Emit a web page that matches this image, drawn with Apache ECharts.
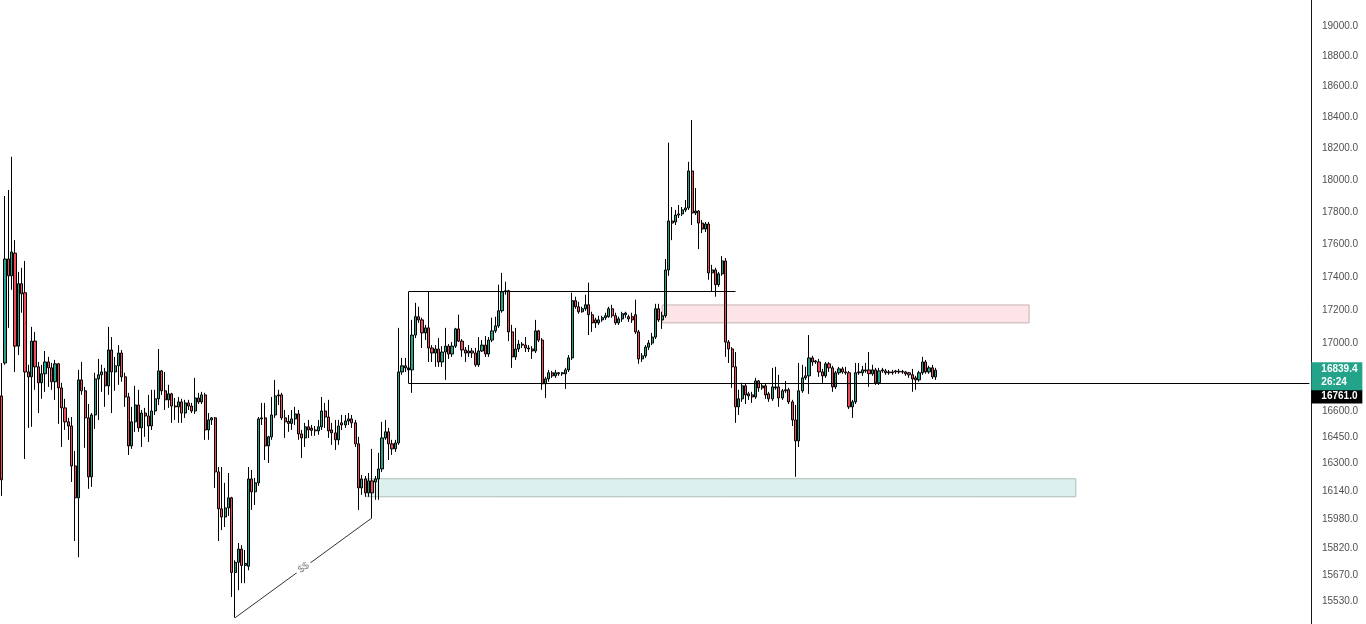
<!DOCTYPE html>
<html><head><meta charset="utf-8">
<script src="https://cdn.jsdelivr.net/npm/echarts@6/dist/echarts.min.js"></script>
<style>html,body{margin:0;padding:0;background:#fff;overflow:hidden}#c{width:1366px;height:624px}</style>
</head><body><div id="c"></div>
<script>
// [open, close, low, high]
const ohlc = [
[16688,16204,16113,16882],[16882,17509,16871,17900],[17509,17406,17091,17938],[17406,17552,17321,18148],[17545,16982,16829,17625],
[16982,17358,16929,17430],[17358,17297,17182,17455],[17303,16829,16323,17497],[16829,16800,16502,16871],[16800,17012,16508,17097],
[17012,16859,16724,17067],[16859,16765,16588,16888],[16765,16818,16671,16871],[16818,16888,16712,16953],[16888,16853,16741,16918],
[16853,16771,16724,16882],[16771,16877,16665,16900],[16877,16735,16525,16882],[16735,16618,16392,16765],[16618,16537,16490,16671],
[16537,16513,16433,16560],[16513,16283,16192,16565],[16283,16102,15860,16369],[16102,16782,15770,16841],[16782,16718,16694,16888],
[16718,16560,16387,16741],[16560,16221,16153,16641],[16221,16577,16164,16588],[16577,16788,16496,16824],[16788,16812,16548,16906],
[16812,16829,16712,16871],[16829,16747,16624,16853],[16747,16959,16694,17097],[16959,16829,16588,17036],[16829,16865,16718,16918],
[16865,16941,16753,16988],[16941,16800,16771,16959],[16800,16682,16624,16824],[16682,16398,16346,16706],[16398,16537,16381,16624],
[16537,16635,16479,16747],[16635,16502,16479,16724],[16502,16588,16392,16606],[16588,16571,16450,16618],[16571,16513,16421,16694],
[16513,16600,16490,16724],[16600,16671,16577,16724],[16671,16835,16635,16965],[16835,16718,16694,16841],[16718,16665,16606,16829],
[16665,16700,16618,16753],[16700,16629,16531,16706],[16629,16624,16548,16676],[16624,16653,16531,16682],[16653,16588,16531,16671],
[16588,16647,16560,16665],[16647,16629,16606,16665],[16629,16600,16588,16647],[16600,16676,16583,16794],[16676,16653,16641,16706],
[16653,16694,16641,16712],[16694,16490,16433,16706],[16490,16548,16433,16588],[16548,16560,16519,16565],[16560,16249,16158,16565],
[16249,16040,15860,16277],[16040,15994,15921,16277],[15994,16045,15938,16187],[16045,16102,16000,16243],[16102,15686,15552,16108],
[15686,15742,15439,15753],[15742,15815,15589,15849],[15815,15725,15627,15837],[15725,15736,15627,15810],[15720,16209,15698,16277],
[16209,16136,16034,16260],[16136,16187,16062,16215],[16187,16554,16170,16565],[16554,16560,16519,16647],[16560,16398,16317,16647],
[16398,16450,16300,16456],[16450,16577,16433,16682],[16577,16688,16560,16782],[16688,16694,16635,16724],[16694,16560,16548,16706],
[16560,16537,16444,16606],[16540,16528,16479,16577],[16528,16554,16490,16606],[16554,16583,16519,16624],[16583,16467,16433,16606],
[16467,16444,16329,16490],[16444,16508,16392,16531],[16508,16490,16444,16548],[16500,16488,16456,16519],[16490,16485,16456,16513],
[16485,16508,16462,16548],[16508,16600,16490,16682],[16600,16565,16502,16647],[16565,16485,16444,16665],[16490,16473,16404,16531],
[16473,16433,16375,16548],[16433,16513,16404,16548],[16531,16519,16490,16577],[16519,16542,16502,16577],[16542,16554,16519,16588],
[16554,16531,16502,16577],[16531,16410,16392,16548],[16410,16158,16034,16450],[16158,16209,16119,16232],[16209,16130,16108,16226],
[16130,16198,16108,16243],[16198,16130,15989,16381],[16192,16209,16091,16226],[16209,16266,16091,16358],[16266,16444,16249,16537],
[16444,16479,16433,16548],[16479,16410,16317,16502],[16410,16381,16346,16433],[16381,16415,16364,16433],[16415,16829,16404,17091],
[16829,16865,16812,16912],[16865,16853,16829,16912],[16853,16841,16824,16888],[16841,17048,16706,17139],[17048,17158,17030,17242],
[17158,17139,17121,17218],[17139,17061,16971,17152],[17061,17091,17018,17109],[17091,16971,16888,17309],[16971,16941,16888,16988],
[16941,16965,16859,16988],[16965,16888,16859,17030],[16888,16947,16859,16982],[16947,16982,16782,17091],[16982,16935,16906,16994],
[16935,16982,16918,17006],[16982,17085,16971,17091],[17085,17012,17006,17170],[17012,16959,16918,17024],[16959,16941,16888,16976],
[16941,16953,16918,16988],[16953,16941,16912,16971],[16941,16871,16859,16971],[16871,16953,16859,17036],[16953,16988,16947,17018],
[16988,16935,16918,17042],[16935,17018,16918,17036],[17018,17073,17006,17152],[17073,17103,17061,17158],[17103,17194,17091,17352],
[17194,17309,17182,17424],[17309,17315,17291,17370],[17315,17067,17012,17321],[17067,16918,16853,17109],[16918,16965,16900,17091],
[16965,16994,16947,17018],[16994,16988,16971,17006],[16988,16971,16947,17036],[16971,16965,16947,16988],[16965,16953,16906,16982],
[16953,17073,16941,17139],[17073,17018,17006,17079],[17018,16759,16724,17030],[16759,16788,16676,16800],[16788,16824,16771,16841],
[16824,16806,16794,16835],[16806,16824,16794,16841],[16818,16824,16806,16829],[16824,16818,16806,16829],[16818,16841,16729,16853],
[16841,16912,16829,16929],[16912,17255,16900,17303],[17255,17218,17206,17279],[17218,17188,17176,17248],[17188,17206,17182,17218],
[17206,17230,17194,17291],[17230,17170,17048,17364],[17170,17121,17067,17188],[17139,17121,17091,17152],[17121,17139,17109,17164],
[17139,17152,17127,17164],[17152,17164,17139,17182],[17158,17206,17152,17218],[17206,17164,17152,17230],[17164,17121,17109,17182],
[17121,17145,17109,17158],[17145,17176,17127,17188],[17170,17180,17152,17188],[17158,17145,17127,17170],[17158,17139,17121,17182],
[17170,17067,17055,17261],[17067,16906,16877,17079],[16906,16924,16888,16941],[16924,16976,16912,16988],[16976,17000,16959,17018],
[17000,17036,16988,17061],[17036,17206,17024,17236],[17206,17139,17127,17236],[17139,17164,17085,17188],[17164,17442,17152,17509],
[17442,17744,17406,18238],[17744,17731,17625,17831],[17738,17781,17719,17813],[17781,17788,17763,17844],[17788,17813,17775,17831],
[17813,17825,17800,17875],[17825,18058,17813,18116],[18058,17794,17719,18384],[17794,17806,17781,17950],[17806,17731,17570,17813],
[17731,17694,17669,17750],[17694,17725,17675,17738],[17725,17424,17382,17738],[17424,17442,17309,17473],[17442,17352,17279,17455],
[17352,17418,17339,17430],[17418,17497,17406,17527],[17497,17006,16918,17515],[17006,16965,16882,17018],[16965,16859,16735,16976],
[16859,16624,16531,16947],[16624,16671,16577,16724],[16671,16747,16653,16765],[16747,16694,16641,16759],[16700,16688,16665,16712],
[16694,16682,16647,16712],[16682,16776,16671,16794],[16776,16735,16712,16782],[16735,16747,16724,16759],[16747,16694,16671,16759],
[16700,16671,16653,16712],[16671,16741,16659,16853],[16735,16741,16724,16859],[16741,16676,16624,16812],[16676,16718,16665,16729],
[16718,16724,16706,16776],[16724,16653,16641,16735],[16653,16548,16513,16665],[16548,16427,16221,16635],[16427,16718,16392,16882],
[16718,16794,16706,16871],[16794,16806,16782,16859],[16806,16912,16700,17048],[16912,16888,16865,16924],[16894,16888,16877,16900],
[16888,16829,16800,16906],[16829,16806,16765,16847],[16806,16877,16794,16888],[16877,16853,16829,16888],[16853,16741,16712,16865],
[16741,16824,16729,16835],[16824,16847,16812,16859],[16847,16829,16818,16859],[16829,16824,16812,16859],[16824,16624,16612,16835],
[16624,16653,16560,16665],[16653,16824,16641,16882],[16824,16829,16812,16882],[16824,16841,16806,16865],[16841,16835,16824,16882],
[16841,16818,16741,16947],[16818,16841,16806,16871],[16841,16765,16753,16853],[16765,16835,16753,16853],[16841,16835,16824,16853],
[16835,16824,16812,16847],[16829,16824,16812,16841],[16824,16829,16812,16841],[16835,16829,16818,16841],[16833,16829,16818,16847],
[16832,16828,16818,16841],[16829,16818,16806,16835],[16824,16812,16794,16829],[16812,16788,16712,16847],[16794,16782,16724,16806],
[16782,16824,16771,16835],[16824,16888,16812,16918],[16888,16829,16818,16900],[16829,16853,16818,16865],[16853,16800,16788,16871],
[16800,16839.4,16782,16853]
];

const priceTicks = [15530,15670,15820,15980,16140,16300,16450,16600,17000,17200,17400,17600,17800,18000,18200,18400,18600,18800,19000];
const axisMin = 15405, axisMax = 19174;
const totalSlots = 393;

const rangeTop = 17310, rangeStart = 122, rangeEnd = 220;
const keyLevel = 16761;
const lastPrice = 16839.4, countdown = '26:24';
const supplyZone = { from: 198, to: 308, low: 17121, high: 17229 };
const demandZone = { from: 109, to: 322, low: 16108, high: 16210 };
const liqFrom = 70, liqTo = 111, liqText = '$$';

const L = Math.log;
const UP = '#22a38a', DOWN = '#f04b58';
const FONT = 'Liberation Sans';

const slots = [];
for (let i = 0; i < totalSlots; i++) slots.push(String(i));
const lastIdx = totalSlots - 1;

const chart = echarts.init(document.getElementById('c'), null, { renderer: 'canvas' });

chart.setOption({
  animation: false,
  backgroundColor: '#ffffff',
  grid: { left: 0, right: 55, top: 0, bottom: 0 },
  xAxis: { type: 'category', data: slots, boundaryGap: true, show: false },
  yAxis: {
    type: 'value', position: 'right', scale: true,
    min: L(axisMin), max: L(axisMax),
    axisLine: { show: true, lineStyle: { color: '#131722', width: 1 } },
    axisTick: { show: false },
    splitLine: { show: false },
    axisLabel: {
      customValues: priceTicks.map(L),
      formatter: v => Math.exp(v).toFixed(1),
      color: '#505050', fontFamily: FONT, fontSize: 10, margin: 11
    }
  },
  series: [{
    type: 'candlestick',
    clip: false,
    barWidth: 2.6,
    data: ohlc.map(r => r.map(L)),
    itemStyle: { color: UP, color0: DOWN, borderColor: '#000', borderColor0: '#000', borderWidth: 1 },
    emphasis: { disabled: true },
    markArea: {
      silent: true,
      data: [
        [{ coord: [supplyZone.from, L(supplyZone.high)], itemStyle: { color: 'rgba(242,54,69,0.13)', borderColor: '#c6b0b3', borderWidth: 1 } },
         { coord: [supplyZone.to, L(supplyZone.low)] }],
        [{ coord: [demandZone.from, L(demandZone.high)], itemStyle: { color: 'rgba(8,153,129,0.14)', borderColor: '#adbebb', borderWidth: 1 } },
         { coord: [demandZone.to, L(demandZone.low)] }]
      ]
    },
    markLine: {
      silent: true,
      symbol: ['none', 'none'],
      data: [
        [{ coord: [rangeStart, L(rangeTop)], lineStyle: { color: '#000', width: 1, type: 'solid' }, label: { show: false } },
         { coord: [rangeEnd, L(rangeTop)] }],
        [{ coord: [rangeStart, L(rangeTop)], lineStyle: { color: '#000', width: 1, type: 'solid' }, label: { show: false } },
         { coord: [rangeStart, L(keyLevel)] }],
        [{ coord: [rangeStart, L(keyLevel)], lineStyle: { color: '#000', width: 1.2, type: 'solid' },
           label: { show: true, position: 'end', distance: 2, formatter: keyLevel.toFixed(1), color: '#fff',
                    backgroundColor: '#000', fontFamily: FONT, fontWeight: 'bold', fontSize: 10, lineHeight: 12,
                    padding: [1, 5, 1, 10], width: 36, offset: [0, 13] } },
         { coord: [lastIdx, L(keyLevel)] }],
        [{ coord: [liqFrom, L(ohlc[liqFrom][2])], lineStyle: { color: '#333', width: 1, type: 'solid' },
           label: { show: true, position: 'middle', distance: 0, verticalAlign: 'middle', formatter: liqText,
                    color: '#8a8a8a', fontFamily: FONT, fontSize: 10, backgroundColor: '#fff', padding: [0, 3] } },
         { coord: [liqTo, L(ohlc[liqTo][2])] }],
        [{ coord: [ohlc.length - 1, L(lastPrice)], lineStyle: { color: 'rgba(0,0,0,0)', width: 1 },
           label: { show: true, position: 'end', distance: 2,
                    formatter: '{a|' + lastPrice.toFixed(1) + '}\n{b|' + countdown + '}',
                    backgroundColor: UP, padding: [1, 5, 1, 10], width: 36, offset: [0, 6],
                    rich: {
                      a: { color: '#fff', fontFamily: FONT, fontWeight: 'bold', fontSize: 10, lineHeight: 13 },
                      b: { color: '#fff', fontFamily: FONT, fontWeight: 'bold', fontSize: 10, lineHeight: 13 }
                    } } },
         { coord: [lastIdx, L(lastPrice)] }]
      ]
    }
  }]
});
</script>
</body></html>
